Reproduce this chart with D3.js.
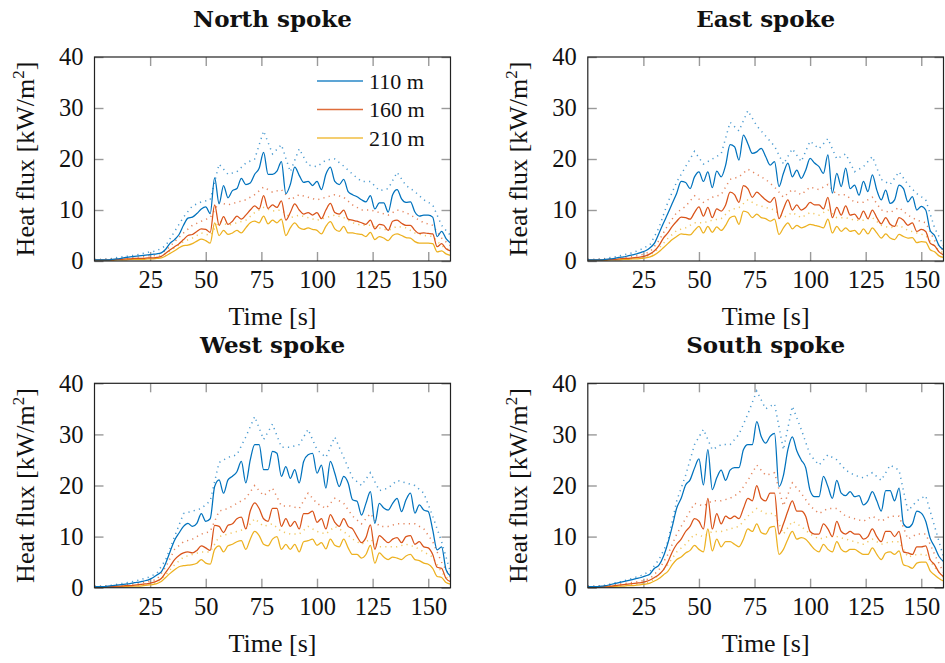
<!DOCTYPE html>
<html>
<head>
<meta charset="utf-8">
<script src="https://cdn.jsdelivr.net/npm/d3@7"></script>
<style>
  body { margin: 0; background: #fff; }
  text { font-family: "Liberation Serif", "DejaVu Serif", serif; fill: #111; }
</style>
</head>
<body>
<svg id="chart" width="945" height="663"></svg>
<script>
// Sampling grids (seconds): mean traces every 2 s, upper envelopes every 4 s
const timeMean = d3.range(0, 161, 2);
const timeUpper = d3.range(0, 161, 4);

const xTicks = [25, 50, 75, 100, 125, 150];
const yTicks = [0, 10, 20, 30, 40];
const seriesNames = ["110 m", "160 m", "210 m"];
const panelTitles = ["North spoke", "East spoke", "West spoke", "South spoke"];

// ---- North spoke ----
const north110 = [0.2,0.2,0.2,0.2,0.3,0.4,0.5,0.7,0.8,0.9,
  1.0,1.1,1.2,1.3,1.4,1.6,2.3,3.5,4.2,5.2,
  7.0,8.4,8.6,9.3,10.2,10.6,9.3,16.3,11.2,14.8,
  12.4,13.8,14.2,16.2,15.0,15.3,17.0,18.2,21.3,17.0,
  17.0,17.6,19.5,13.2,15.0,18.4,16.8,15.4,15.6,14.8,
  15.6,14.0,17.0,18.4,15.6,15.0,16.0,13.6,13.0,12.6,
  12.0,11.6,12.8,10.2,11.4,11.4,9.6,13.0,14.0,12.2,
  11.5,11.6,9.6,8.8,9.0,9.0,8.6,4.8,5.8,4.4,
  3.5];
const north160 = [0.2,0.2,0.2,0.2,0.2,0.3,0.3,0.4,0.4,0.5,
  0.5,0.5,0.6,0.6,0.7,0.9,1.5,2.2,2.8,3.4,
  4.2,5.0,5.2,5.8,6.3,6.2,5.6,11.0,7.0,8.7,
  7.2,7.8,8.8,8.2,9.0,10.0,10.8,10.2,12.8,10.3,
  11.0,10.5,11.8,8.0,9.5,11.2,10.0,9.2,9.5,9.0,
  9.5,8.3,10.0,11.3,9.5,9.2,10.0,8.2,8.0,7.8,
  7.5,7.2,8.0,6.3,7.2,7.0,6.0,7.8,8.0,7.4,
  7.0,7.0,6.0,5.4,5.5,5.4,5.3,2.8,3.4,2.4,
  2.0];
const north210 = [0.1,0.1,0.1,0.1,0.1,0.2,0.2,0.2,0.3,0.3,
  0.3,0.3,0.4,0.4,0.5,0.6,1.0,1.5,2.0,2.6,
  3.0,3.1,3.4,3.9,4.3,4.0,3.5,7.5,5.0,6.0,
  5.2,5.5,6.0,5.5,6.5,7.5,7.8,7.5,8.8,7.3,
  8.0,7.5,8.2,5.0,6.5,7.5,6.5,6.2,6.5,6.2,
  6.0,5.3,6.8,7.7,6.3,5.8,6.8,5.5,5.5,5.3,
  5.2,4.8,5.6,4.2,4.8,4.5,4.0,5.0,5.3,5.0,
  4.6,4.5,3.8,3.5,3.5,3.5,3.4,1.8,2.0,1.4,
  1.1];
const north110Upper = [0.3,0.3,0.5,0.8,1.0,1.3,1.7,2.0,3.0,5.8,
  8.6,10.8,11.6,12.0,19.0,17.0,17.5,19.2,20.0,25.5,
  21.0,22.8,17.5,22.0,18.8,18.5,19.8,20.0,18.6,17.0,
  15.6,15.6,13.8,14.2,17.4,14.8,13.6,12.0,11.0,7.0,
  5.0];
const north160Upper = [0.3,0.3,0.4,0.5,0.7,0.8,1.0,1.2,2.0,3.8,
  5.5,7.0,7.8,8.5,11.5,11.0,11.5,12.0,13.0,14.5,
  13.5,14.0,12.0,13.0,12.5,12.0,12.5,13.0,12.5,11.0,
  10.0,10.0,9.5,9.0,10.0,9.5,8.5,7.5,7.0,4.5,
  3.0];
const north210Upper = [0.2,0.2,0.2,0.3,0.4,0.5,0.6,0.8,1.4,2.6,
  3.8,4.5,5.5,5.0,7.8,7.0,7.5,8.0,9.5,10.5,
  9.8,10.0,8.5,9.0,8.5,8.0,8.5,9.0,8.5,7.5,
  7.0,7.0,6.5,6.0,6.8,6.5,5.5,5.0,4.8,3.0,
  2.0];

// ---- East spoke ----
const east110 = [0.2,0.2,0.2,0.2,0.3,0.4,0.5,0.7,0.8,1.0,
  1.2,1.4,1.7,2.0,2.6,3.5,5.4,7.4,9.3,11.3,
  13.3,15.6,15.4,14.2,16.5,17.5,15.6,17.5,14.4,17.6,
  16.5,18.8,22.8,22.4,19.8,24.7,23.0,21.1,21.4,22.1,
  20.5,18.8,19.5,14.6,17.2,19.2,16.5,17.8,16.2,17.8,
  20.1,19.2,18.5,17.2,20.8,13.3,17.2,14.6,18.2,14.2,
  14.9,12.9,15.6,13.6,16.9,13.9,12.0,13.9,11.3,12.0,
  14.9,14.2,11.6,12.6,10.0,10.7,10.0,6.0,5.0,3.0,
  2.2];
const east160 = [0.2,0.2,0.2,0.2,0.2,0.3,0.3,0.4,0.5,0.5,
  0.6,0.7,0.8,1.0,1.4,2.0,3.0,4.5,5.5,6.8,
  7.8,8.6,8.5,8.2,9.5,10.6,8.8,10.5,8.5,10.2,
  9.8,11.0,13.5,13.0,11.5,14.8,14.2,12.5,13.5,12.8,
  12.0,11.5,12.5,8.3,10.2,12.0,10.0,11.0,10.0,10.5,
  11.5,11.0,11.0,10.2,12.5,8.5,10.5,9.0,10.8,9.0,
  9.2,8.2,9.8,8.3,10.0,8.5,7.3,8.5,7.2,6.8,
  8.5,8.0,7.0,7.5,5.8,6.2,5.8,3.5,3.0,1.8,
  1.2];
const east210 = [0.1,0.1,0.1,0.1,0.1,0.2,0.2,0.2,0.3,0.3,
  0.4,0.4,0.5,0.6,0.8,1.2,1.8,2.6,3.4,4.2,
  4.8,5.3,5.2,5.1,6.0,6.8,5.5,6.8,5.6,6.7,
  6.0,7.0,8.5,8.8,7.2,9.8,9.5,8.5,9.2,8.5,
  8.3,7.8,8.2,5.2,6.5,7.5,6.3,7.0,6.5,6.8,
  7.2,7.0,6.8,6.5,8.2,5.5,6.8,5.8,6.5,5.8,
  6.0,5.2,6.3,5.3,6.5,5.5,4.5,5.3,4.5,4.2,
  5.2,4.8,4.5,4.6,3.6,3.8,3.7,2.2,1.8,1.0,
  0.7];
const east110Upper = [0.3,0.3,0.5,0.8,1.2,1.6,2.3,3.2,6.5,11.5,
  15.5,18.5,21.5,19.0,20.0,21.0,27.2,25.5,29.5,26.5,
  24.5,22.5,19.0,22.0,19.5,23.5,22.0,24.0,20.0,21.0,
  17.5,18.5,20.5,16.0,15.0,17.5,15.0,13.2,12.0,6.5,
  3.0];
const east160Upper = [0.3,0.3,0.4,0.5,0.7,0.9,1.2,1.8,4.0,7.0,
  9.5,10.7,12.8,11.5,12.5,13.0,16.0,16.5,18.0,17.0,
  16.0,14.5,12.5,14.0,13.0,14.5,14.0,15.0,13.0,13.0,
  11.5,11.5,12.5,10.0,9.5,10.5,9.0,8.0,7.5,4.0,
  2.0];
const east210Upper = [0.2,0.2,0.2,0.3,0.4,0.5,0.7,1.1,2.5,4.4,
  6.0,6.5,7.5,7.5,8.0,8.3,10.0,10.5,12.0,11.0,
  10.5,10.0,8.5,9.5,8.5,9.5,9.0,10.0,8.5,8.5,
  8.0,8.0,8.5,7.0,6.5,7.0,6.0,5.5,5.0,2.8,
  1.5];

// ---- West spoke ----
const west110 = [0.2,0.2,0.2,0.3,0.4,0.5,0.6,0.7,0.8,1.0,
  1.1,1.3,1.5,1.9,2.5,3.1,4.8,7.1,9.3,10.7,
  12.0,12.6,12.0,12.6,14.5,13.0,13.5,19.8,21.1,18.5,
  21.1,21.8,22.7,24.7,20.5,25.0,28.0,28.0,23.1,23.1,
  26.7,26.3,21.8,23.7,21.4,23.1,20.5,24.7,26.0,26.3,
  22.4,24.0,19.5,24.7,22.4,19.8,21.8,20.5,17.2,16.9,
  14.2,16.5,18.8,12.6,16.5,15.6,15.2,16.5,17.5,14.9,
  17.2,18.5,14.6,16.2,15.2,14.9,11.3,7.4,8.0,3.5,
  2.3];
const west160 = [0.2,0.2,0.2,0.2,0.2,0.3,0.3,0.4,0.4,0.5,
  0.6,0.7,0.8,1.0,1.3,1.8,3.0,4.2,5.5,6.3,
  6.8,7.0,6.8,7.3,8.2,7.8,7.3,12.2,12.0,10.8,
  12.2,12.5,13.5,13.8,11.5,15.0,16.6,15.5,13.5,13.0,
  15.5,15.5,12.0,13.5,12.0,13.0,11.5,14.5,14.5,15.0,
  12.8,13.5,11.5,14.3,12.8,12.0,13.5,12.0,11.5,10.0,
  8.8,9.8,12.3,7.5,10.2,9.5,8.8,9.5,9.8,8.8,
  10.0,10.2,8.5,9.0,8.0,7.8,6.5,4.0,3.8,1.8,
  1.2];
const west210 = [0.1,0.1,0.1,0.1,0.1,0.2,0.2,0.2,0.3,0.3,
  0.3,0.4,0.5,0.6,0.8,1.2,2.0,2.8,3.5,4.1,
  4.3,4.4,4.5,4.8,5.5,4.8,4.6,7.5,8.2,7.0,
  8.2,8.5,9.0,9.2,7.5,9.5,11.0,10.2,8.5,8.2,
  9.5,10.0,7.5,8.5,7.5,8.5,7.0,9.0,9.2,9.5,
  8.3,8.8,7.6,9.5,8.3,8.0,9.5,7.8,6.5,6.5,
  5.8,6.5,8.3,4.8,6.8,6.0,5.5,6.0,5.8,5.5,
  6.2,6.5,5.5,5.3,4.8,4.6,3.8,2.2,2.0,1.0,
  0.7];
const west110Upper = [0.3,0.3,0.5,0.8,1.1,1.5,2.0,2.8,5.5,10.0,
  14.5,15.0,15.5,17.0,24.5,25.5,26.0,29.5,33.5,29.0,
  32.0,27.5,27.5,28.0,31.0,27.0,25.5,29.5,25.5,21.5,
  20.0,22.5,19.0,19.5,21.0,20.5,20.0,18.5,14.0,9.0,
  3.0];
const west160Upper = [0.3,0.3,0.4,0.5,0.7,0.9,1.2,1.6,4.0,7.5,
  9.0,9.5,10.5,11.0,15.0,15.5,16.5,17.5,20.0,18.0,
  19.5,16.0,16.0,15.5,18.5,16.5,15.5,17.5,16.5,14.0,
  12.5,14.5,12.0,12.0,12.5,12.5,12.5,11.5,9.0,5.0,
  2.0];
const west210Upper = [0.2,0.2,0.2,0.3,0.4,0.5,0.7,1.0,2.5,4.5,
  6.0,6.5,7.0,7.0,10.0,10.5,11.0,11.5,13.5,12.0,
  12.5,11.0,10.5,10.5,12.0,11.0,10.5,12.0,11.0,9.5,
  8.5,9.5,8.0,8.0,8.0,8.5,8.0,7.0,6.0,3.0,
  1.2];

// ---- South spoke ----
const south110 = [0.2,0.2,0.2,0.3,0.4,0.6,0.8,1.0,1.2,1.4,
  1.6,1.8,2.0,2.3,2.7,3.8,4.4,6.1,8.7,12.0,
  15.6,17.5,20.1,21.1,23.4,25.2,20.1,27.0,19.2,21.5,
  23.0,21.0,23.0,23.5,23.5,27.0,28.0,28.0,32.5,29.6,
  28.3,29.6,30.2,19.8,22.0,27.0,29.5,26.8,25.0,23.5,
  19.0,17.8,17.8,21.8,19.8,17.5,21.0,18.5,18.0,18.8,
  17.8,18.0,16.2,17.0,18.8,17.0,15.0,19.0,19.0,17.0,
  19.5,12.5,11.8,12.5,15.0,14.6,13.0,9.7,8.0,6.1,
  5.1];
const south160 = [0.2,0.2,0.2,0.2,0.3,0.3,0.4,0.5,0.6,0.7,
  0.8,0.9,1.0,1.2,1.5,2.0,2.6,3.5,5.0,7.0,
  8.5,9.5,11.0,12.0,13.5,13.0,11.5,17.5,11.5,14.5,
  12.5,14.0,13.5,14.0,13.5,15.5,17.5,17.0,20.0,17.5,
  17.0,18.5,18.5,10.5,12.5,15.0,17.0,15.0,15.0,14.0,
  11.0,10.5,10.5,12.5,11.5,10.0,13.0,11.0,10.5,11.0,
  10.5,10.5,9.5,10.0,11.5,10.0,9.0,11.0,11.0,10.0,
  11.0,7.0,6.8,6.5,8.0,8.0,8.2,5.5,4.5,3.0,
  2.2];
const south210 = [0.1,0.1,0.1,0.1,0.2,0.2,0.2,0.3,0.3,0.4,
  0.4,0.5,0.6,0.7,0.9,1.3,1.8,2.5,3.2,4.5,
  5.5,6.0,6.8,7.3,8.3,7.5,7.0,11.5,7.2,9.5,
  8.0,9.0,9.0,8.5,8.0,9.5,11.5,11.0,12.5,10.8,
  10.5,11.8,12.0,6.5,7.5,9.5,11.0,9.5,9.8,9.5,
  8.5,7.5,7.0,8.5,7.5,7.0,9.0,7.5,7.0,7.5,
  7.5,7.0,6.5,6.5,7.8,6.5,5.5,6.8,7.0,6.5,
  7.2,4.5,4.2,3.8,4.8,5.0,5.0,3.3,2.5,1.8,
  1.3];
const south110Upper = [0.3,0.3,0.5,0.9,1.3,1.8,2.4,3.2,5.5,9.0,
  17.0,22.0,28.0,31.0,27.0,28.0,28.0,30.0,34.0,38.5,
  35.0,36.0,27.0,35.5,31.0,26.0,24.0,26.0,25.0,23.0,
  22.0,21.5,22.5,21.0,24.0,23.0,15.0,17.0,18.0,12.0,
  6.0];
const south160Upper = [0.3,0.3,0.4,0.6,0.8,1.0,1.3,1.8,3.5,6.5,
  10.5,13.5,16.5,16.0,17.0,17.0,17.5,18.5,21.0,24.0,
  22.0,22.5,16.0,20.5,18.5,16.0,14.5,15.5,15.5,14.0,
  13.5,13.0,14.0,13.0,14.0,14.0,9.5,10.5,10.5,6.5,
  3.0];
const south210Upper = [0.2,0.2,0.2,0.3,0.4,0.6,0.8,1.1,2.5,4.5,
  7.0,8.5,10.5,10.0,11.0,11.0,11.5,12.0,14.0,15.5,
  14.5,14.5,10.5,13.0,12.0,10.5,9.5,10.0,10.0,9.5,
  9.0,8.5,9.5,8.5,9.0,9.0,6.0,6.5,6.5,4.0,
  2.0];

// ---- Drawing ----
const colors = ["#0072bd", "#d95319", "#edb120"];

const panels = [
  { title: panelTitles[0], mean: [north110, north160, north210], upper: [north110Upper, north160Upper, north210Upper], col: 0, row: 0, legend: true },
  { title: panelTitles[1], mean: [east110, east160, east210], upper: [east110Upper, east160Upper, east210Upper], col: 1, row: 0 },
  { title: panelTitles[2], mean: [west110, west160, west210], upper: [west110Upper, west160Upper, west210Upper], col: 0, row: 1 },
  { title: panelTitles[3], mean: [south110, south160, south210], upper: [south110Upper, south160Upper, south210Upper], col: 1, row: 1 }
];

const colSpans = [[94.5, 450.5], [587.8, 943.5]];
const rowSpans = [[57, 261], [383.3, 587.7]];
const tickLen = 9;

const svg = d3.select("#chart");

panels.forEach((p, i) => {
  const [x0, x1] = colSpans[p.col];
  const [y0, y1] = rowSpans[p.row];
  const x = d3.scaleLinear().domain([0, 160]).range([x0, x1]);
  const y = d3.scaleLinear().domain([0, 40]).range([y1, y0]);
  const g = svg.append("g");

  // ticks on all four sides, pointing inward
  const styleAxis = sel => {
    sel.select(".domain").remove();
    sel.selectAll(".tick line").attr("stroke", "#9a9a9a").attr("stroke-width", 1.4);
    sel.selectAll(".tick text").style("font-family", '"Liberation Serif", serif')
      .style("font-size", "24.5px").attr("fill", "#111");
  };
  g.append("g").attr("transform", `translate(0,${y1})`)
    .call(d3.axisBottom(x).tickValues(xTicks).tickSize(-tickLen).tickPadding(9.5))
    .call(styleAxis);
  g.append("g").attr("transform", `translate(0,${y0})`)
    .call(d3.axisTop(x).tickValues(xTicks).tickSize(-tickLen).tickFormat(""))
    .call(styleAxis);
  g.append("g").attr("transform", `translate(${x0},0)`)
    .call(d3.axisLeft(y).tickValues(yTicks).tickSize(-tickLen).tickPadding(11))
    .call(styleAxis);
  g.append("g").attr("transform", `translate(${x1},0)`)
    .call(d3.axisRight(y).tickValues(yTicks).tickSize(-tickLen).tickFormat(""))
    .call(styleAxis);

  const clipId = "clip" + i;
  g.append("clipPath").attr("id", clipId)
    .append("rect").attr("x", x0).attr("y", y0).attr("width", x1 - x0).attr("height", y1 - y0);

  const plot = g.append("g").attr("clip-path", `url(#${clipId})`);

  // upper envelopes (dotted) first, then the mean traces
  p.upper.forEach((vals, k) => {
    const line = d3.line().x((d, j) => x(timeUpper[j])).y(d => y(d));
    plot.append("path").datum(vals).attr("d", line)
      .attr("fill", "none").attr("stroke", colors[k]).attr("stroke-width", 1.5)
      .attr("stroke-dasharray", "1.2,4.2").attr("stroke-opacity", 0.7);
  });
  [2, 1, 0].forEach(k => {
    const line = d3.line().curve(d3.curveMonotoneX).x((d, j) => x(timeMean[j])).y(d => y(d));
    plot.append("path").datum(p.mean[k]).attr("d", line)
      .attr("fill", "none").attr("stroke", colors[k]).attr("stroke-width", 1.25)
      .attr("stroke-linejoin", "round");
  });

  // frame
  g.append("rect").attr("x", x0).attr("y", y0).attr("width", x1 - x0).attr("height", y1 - y0)
    .attr("fill", "none").attr("stroke", "#222").attr("stroke-width", 1.2);

  // title
  g.append("text").attr("x", (x0 + x1) / 2).attr("y", y0 - 30)
    .attr("text-anchor", "middle")
    .style("font-family", '"DejaVu Serif", serif').style("font-weight", "bold").style("font-size", "23px")
    .text(p.title);

  // x label
  g.append("text").attr("x", (x0 + x1) / 2).attr("y", y1 + 64)
    .attr("text-anchor", "middle").style("font-size", "26px").text("Time [s]");

  // y label
  const yl = g.append("text")
    .attr("transform", `translate(${x0 - 61},${(y0 + y1) / 2}) rotate(-90)`)
    .attr("text-anchor", "middle").style("font-size", "26px");
  yl.append("tspan").text("Heat flux [kW/m");
  yl.append("tspan").attr("dy", -10).style("font-size", "17px").text("2");
  yl.append("tspan").attr("dy", 10).text("]");

  if (p.legend) {
    const lg = g.append("g");
    seriesNames.forEach((name, k) => {
      const ly = 81 + k * 28.5;
      lg.append("line").attr("x1", 317).attr("x2", 363).attr("y1", ly).attr("y2", ly)
        .attr("stroke", colors[k]).attr("stroke-width", 1.4).attr("stroke-opacity", 0.85);
      lg.append("text").attr("x", 369).attr("y", ly + 7.5).style("font-size", "22px").text(name);
    });
  }
});
</script>
</body>
</html>
